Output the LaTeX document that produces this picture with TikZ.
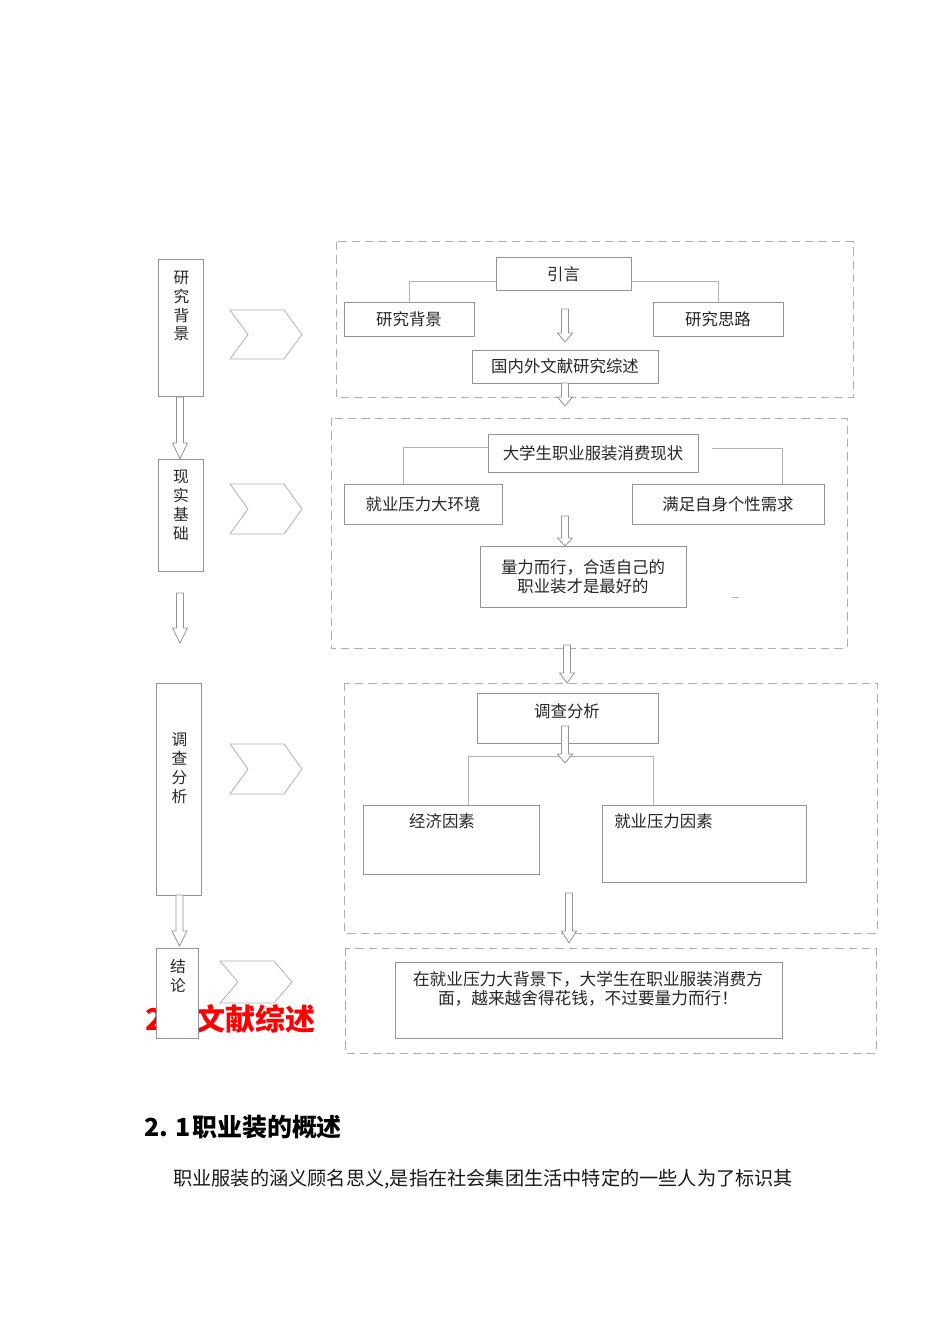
\documentclass[tikz,border=0pt]{standalone}
\usepackage{fontspec}
\newfontfamily\cjk{Noto Sans CJK SC}
\usetikzlibrary{calc}
\tikzset{
	box/.style={draw=black!42, line width=0.75pt, fill=white, inner sep=0pt, outer sep=0pt, anchor=north west, text=black!85, font=\cjk\fontsize{12.3}{14}\selectfont, align=center},
	wh/.style 2 args={minimum width=#1*0.75pt, minimum height=#2*0.75pt},
	txt/.style={inner sep=0pt, text=black!85, font=\cjk\fontsize{12.3}{14}\selectfont, align=center},
	vtxt/.style={inner sep=0pt, text=black!85, font=\cjk\fontsize{11.8}{14.2}\selectfont, align=center},
	panel/.style={draw=black!32, line width=0.75pt, dash pattern=on 6.2pt off 3.8pt},
	link/.style={draw=black!30, line width=0.7pt},
	chev/.style={draw=black!30, line width=0.6pt, fill=white},
	harrow/.style={draw=black!42, line width=0.6pt, fill=white},
}
\def\chevron(#1,#2,#3){\draw[chev] (#1,#2) -- (#1+54,#2) -- (#1+72,#2+#3/2) -- (#1+54,#2+#3) -- (#1,#2+#3) -- (#1+18,#2+#3/2) -- cycle;}
\def\hollowdown(#1,#2,#3,#4){\draw[harrow] (#1-3.5,#2) -- (#1+3.5,#2) -- (#1+3.5,#3-#4) -- (#1+7.5,#3-#4) -- (#1,#3) -- (#1-7.5,#3-#4) -- (#1-3.5,#3-#4) -- cycle;}

\begin{document}
\begin{tikzpicture}[x=0.75pt, y=-0.75pt]
	%%%%% PAGE %%%%%
	\fill[white] (0,0) rectangle (950,1344);
	\useasboundingbox (0,0) rectangle (950,1344);
	
	% red heading, partly hidden by the last stage box
	\node[txt, anchor=west, text=red, font=\cjk\bfseries\fontsize{22.5}{26}\selectfont] (h2) at (145,1019) {\makebox[37.5pt][l]{2}文献综述};
	
	\draw[panel] (336,242) rectangle (853,397);
	\draw[panel] (331,418) rectangle (847,648);
	\draw[panel] (344,683) rectangle (877,933);
	\draw[panel] (345,948) rectangle (876,1053);
	
	% stages on the left
	\node[box, wh={45}{136}] (s1) at (158,260) {};
	\node[box, wh={45}{112}] (s2) at (158,459) {};
	\node[box, wh={45}{212}] (s3) at (156,683) {};
	\node[box, wh={42}{90}] (s4) at (156,948) {};
	\node[vtxt] (t1) at (181.5,306) {研\\究\\背\\景};
	\node[vtxt] (t2) at (181,505) {现\\实\\基\\础};
	\node[vtxt] (t3) at (179.5,768.5) {调\\查\\分\\析};
	\node[vtxt] (t4) at (178,975.5) {结\\论};
	
	% panel 1
	\node[box, wh={135}{33}] (yy) at (496,258) {引言};
	\node[box, wh={130}{33}] (bj) at (344,303) {研究背景};
	\node[box, wh={130}{33}] (sl) at (653,303) {研究思路};
	\node[box, wh={186}{33}] (gn) at (472,350) {国内外文献研究综述};
	\draw[link] ($(yy.west)+(0,6.5)$) -| (bj.north);
	\draw[link] ($(yy.east)+(0,6.5)$) -| (sl.north);
	
	% panel 2
	\node[box, wh={210}{38}] (xz) at (488,434) {大学生职业服装消费现状};
	\node[box, wh={158}{40}] (jh) at (344,484) {就业压力大环境};
	\node[box, wh={192}{40}] (mz) at (632,484) {满足自身个性需求};
	\node[box, wh={206}{61}] (ll) at (480,546) {量力而行，合适自己的\\职业装才是最好的};
	\draw[link] ($(xz.west)+(0,-6)$) -| ($(jh.north)+(-20,0)$);
	\draw[link] ($(xz.east)+(14,-5)$) -| ($(mz.north)+(54,0)$);
	\draw[link] (732,597) -- (739,597);
	
	% panel 3
	\node[box, wh={181}{50}] (dc) at (477,693) {};
	\node[box, wh={176}{69}] (jj) at (363,805) {};
	\node[box, wh={204}{77}] (jl) at (602,805) {};
	\node[txt] (dct) at (567,711.5) {调查分析};
	\node[txt] (jjt) at (442,821.5) {经济因素};
	\node[txt, anchor=west] (jlt) at (614,821.5) {就业压力因素};
	\draw[link] ($(jj.north)+(17,0)$) |- ($(jl.north)+(-51,-49)$) -- ($(jl.north)+(-51,0)$);
	
	% panel 4
	\node[box, wh={387}{76}] (jg) at (395,962) {};
	\node[txt, font=\cjk\fontsize{12.5}{14.25}\selectfont] (jgt) at (588,988.5) {在就业压力大背景下，大学生在职业服装消费方\\面，越来越舍得花钱，不过要量力而行！};
	
	% chevrons
	\chevron(230,310,49)
	\chevron(230,484,50)
	\chevron(230,744,50)
	\chevron(220,961,42)
	
	% hollow arrows
	\hollowdown(180,397,459,16)
	\hollowdown(180,593,643,15)
	\hollowdown(179.5,895,946,15)
	\hollowdown(565,309,342,9)
	\hollowdown(565,383,406,9)
	\hollowdown(565,516,546,8)
	\hollowdown(567,645,683,10)
	\hollowdown(565,726,763,9)
	\hollowdown(569,893,943,12)
	
	% text below the chart
	\node[txt, anchor=west, text=black, font=\cjk\bfseries\fontsize{18.7}{22}\selectfont] (h21) at (144,1127) {2. 1\hspace{1pt}职业装的概述};
	\node[txt, anchor=west, text=black!90, font=\cjk\fontsize{14.4}{17}\selectfont] (p1) at (173,1179) {职业服装的涵义顾名思义,是指在社会集团生活中特定的一些人为了标识其};
	%%%%% END %%%%%
\end{tikzpicture}
\end{document}
